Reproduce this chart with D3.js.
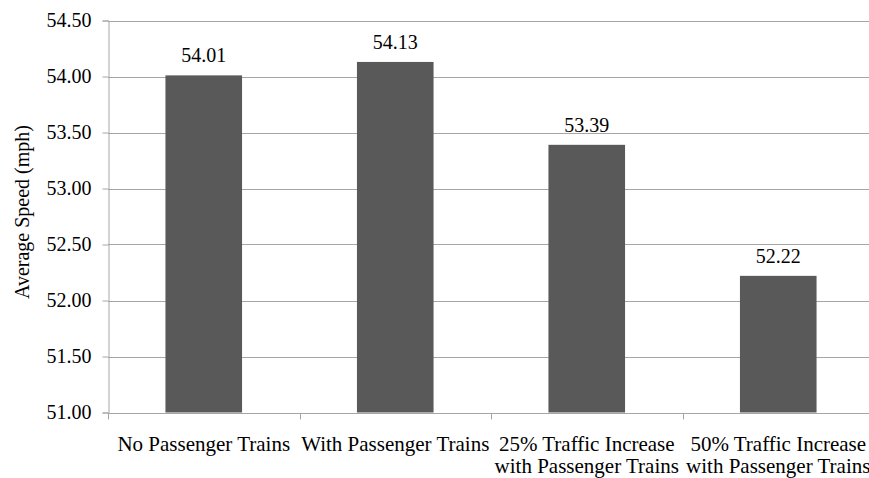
<!DOCTYPE html>
<html>
<head>
<meta charset="utf-8">
<script src="https://cdn.jsdelivr.net/npm/d3@7"></script>
<style>
  html, body { margin: 0; padding: 0; background: #fff; }
  svg { display: block; }
  svg text { font-family: "Liberation Serif"; }
</style>
</head>
<body>
<svg id="chart" width="869" height="478" font-family="Liberation Serif"></svg>
<script>
// Scenario names (split into lines) and average speeds
const categories = [
  ["No Passenger Trains"],
  ["With Passenger Trains"],
  ["25% Traffic Increase", "with Passenger Trains"],
  ["50% Traffic Increase", "with Passenger Trains"]
];
const speeds = [54.01, 54.13, 53.39, 52.22];
const yTicks = [51.0, 51.5, 52.0, 52.5, 53.0, 53.5, 54.0, 54.5];

const FONT = "Liberation Serif";
const GRID = "#a6a6a6";
const BAR = "#595959";

const svg = d3.select("#chart");
const plot = { left: 108, right: 874, top: 20.5, bottom: 412.5 };

const x = d3.scaleBand()
  .domain(d3.range(categories.length))
  .range([plot.left, plot.right])
  .paddingInner(0.6)
  .paddingOuter(0.3);

const y = d3.scaleLinear()
  .domain([51, 54.5])
  .range([plot.bottom, plot.top]);

const px = v => Math.round(v) + 0.5;

// Centre a start-anchored text (or tspan) on cx by measuring it
function centreOn(node, cx) {
  const w = node.getComputedTextLength();
  d3.select(node).attr("x", cx - w / 2);
}

// Horizontal gridlines
svg.append("g")
  .selectAll("line")
  .data(yTicks.slice(1))
  .join("line")
  .attr("x1", plot.left)
  .attr("x2", plot.right)
  .attr("y1", d => px(y(d)))
  .attr("y2", d => px(y(d)))
  .attr("stroke", GRID);

// Bars
svg.append("g")
  .selectAll("rect")
  .data(speeds)
  .join("rect")
  .attr("x", (d, i) => x(i))
  .attr("width", x.bandwidth())
  .attr("y", d => y(d))
  .attr("height", d => y(51) - y(d))
  .attr("fill", BAR);

// Value labels above bars
svg.append("g")
  .selectAll("text")
  .data(speeds)
  .join("text")
  .attr("y", d => y(d) - 13)
  .attr("font-family", FONT)
  .attr("font-size", 20)
  .attr("fill", "#000")
  .text(d => d.toFixed(2))
  .each(function (d, i) { centreOn(this, x(i) + x.bandwidth() / 2); });

// Y axis
const TICK = 6, PAD = 11;
const yAxis = d3.axisLeft(y)
  .tickValues(yTicks)
  .tickSize(TICK)
  .tickPadding(PAD)
  .tickFormat(d3.format(".2f"));
const gy = svg.append("g")
  .attr("transform", `translate(${plot.left + 0.5},0)`)
  .call(yAxis);
gy.attr("font-family", FONT).attr("font-size", 20).attr("text-anchor", null);
gy.select(".domain").attr("stroke", GRID);
gy.selectAll(".tick line").attr("stroke", GRID);
gy.selectAll(".tick text")
  .attr("font-family", FONT)
  .attr("fill", "#000")
  .attr("x", function () { return -(TICK + PAD) - this.getComputedTextLength(); });

// X axis line with tick marks at category boundaries
const xBase = px(y(51));
svg.append("line")
  .attr("x1", plot.left).attr("x2", plot.right)
  .attr("y1", xBase).attr("y2", xBase)
  .attr("stroke", GRID);
const step = (plot.right - plot.left) / categories.length;
svg.append("g")
  .selectAll("line")
  .data(d3.range(categories.length + 1))
  .join("line")
  .attr("x1", i => px(plot.left + i * step))
  .attr("x2", i => px(plot.left + i * step))
  .attr("y1", xBase)
  .attr("y2", xBase + 6)
  .attr("stroke", GRID);

// Category labels, one text per line
categories.forEach((lines, i) => {
  const cx = x(i) + x.bandwidth() / 2;
  lines.forEach((line, j) => {
    svg.append("text")
      .attr("y", 451 + j * 22)
      .attr("font-family", FONT)
      .attr("font-size", 21)
      .attr("fill", "#000")
      .text(line)
      .each(function () { centreOn(this, cx); });
  });
});

// Y axis title
const title = svg.append("text")
  .attr("font-family", FONT)
  .attr("font-size", 20)
  .attr("fill", "#000")
  .text("Average Speed (mph)");
const tw = title.node().getComputedTextLength();
title.attr("transform", `translate(29,${212 + tw / 2}) rotate(-90)`);
</script>
</body>
</html>
